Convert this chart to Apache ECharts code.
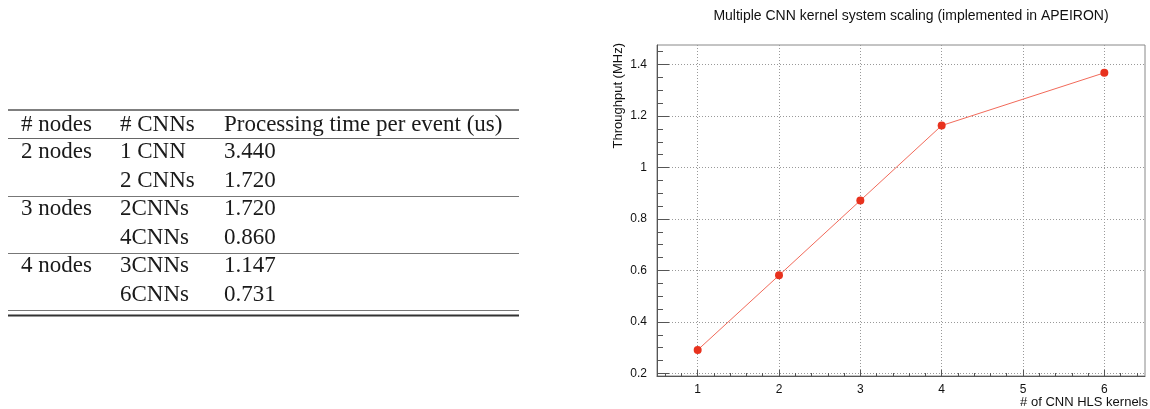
<!DOCTYPE html>
<html>
<head>
<meta charset="utf-8">
<script src="https://cdn.jsdelivr.net/npm/echarts@6/dist/echarts.min.js"></script>
<style>
  html, body { margin: 0; padding: 0; background: #fff; }
  #chart { width: 1150px; height: 409px; }
</style>
</head>
<body>
<div id="chart"></div>
<script>
// ---- Table data ----
const tableHeader = ['# nodes', '# CNNs', 'Processing time per event (us)'];
const nodesCol = ['2 nodes', '', '3 nodes', '', '4 nodes', ''];
const cnnsCol = ['1 CNN', '2 CNNs', '2CNNs', '4CNNs', '3CNNs', '6CNNs'];
const timeCol = ['3.440', '1.720', '1.720', '0.860', '1.147', '0.731'];

// ---- Chart data ----
const chartTitle = 'Multiple CNN kernel system scaling (implemented in APEIRON)';
const xTitle = '# of CNN HLS kernels';
const yTitle = 'Throughput (MHz)';
const kernels = [1, 2, 3, 4, 6];
const throughput = [0.291, 0.581, 0.872, 1.163, 1.368];
const xMajorTicks = [1, 2, 3, 4, 5, 6];
const xMinorTicks = [0.6, 0.8, 1.2, 1.4, 1.6, 1.8, 2.2, 2.4, 2.6, 2.8, 3.2, 3.4, 3.6, 3.8,
                     4.2, 4.4, 4.6, 4.8, 5.2, 5.4, 5.6, 5.8, 6.2, 6.4];
const yMajorTicks = [0.2, 0.4, 0.6, 0.8, 1.0, 1.2, 1.4];
const yMinorTicks = [0.25, 0.3, 0.35, 0.45, 0.5, 0.55, 0.65, 0.7, 0.75, 0.85, 0.9, 0.95,
                     1.05, 1.1, 1.15, 1.25, 1.3, 1.35, 1.45];

// ---- Table layout (graphic elements) ----
const serif = '"Liberation Serif", "Times New Roman", serif';
const sans = '"Liberation Sans", Arial, Helvetica, sans-serif';
const tblLeft = 8, tblRight = 519;
const colX = [21, 120, 224];
const headerY = 124.5;
const rowY = [152, 180.5, 209, 237.5, 266, 294.5];
const graphics = [];
function rule(y, w, color) {
  graphics.push({ type: 'line', silent: true,
    shape: { x1: tblLeft, y1: y, x2: tblRight, y2: y },
    style: { stroke: color, lineWidth: w } });
}
function cell(x, y, t) {
  graphics.push({ type: 'text', silent: true, x: x, y: y,
    style: { text: t, font: '23px ' + serif, fill: '#1a1a1a', textVerticalAlign: 'middle', textAlign: 'left' } });
}
rule(110, 1.3, '#555');
tableHeader.forEach((t, i) => cell(colX[i], headerY, t));
rule(138.5, 1, '#666');
for (let r = 0; r < rowY.length; r++) {
  cell(colX[0], rowY[r], nodesCol[r]);
  cell(colX[1], rowY[r], cnnsCol[r]);
  cell(colX[2], rowY[r], timeCol[r]);
}
rule(196.5, 1, '#777');
rule(253.5, 1, '#777');
rule(310.5, 1, '#777');
rule(315.5, 2, '#333');

// x-axis title (ROOT style: right-aligned under the axis end)
graphics.push({ type: 'text', silent: true, x: 1148, y: 402,
  style: { text: xTitle, font: '13px ' + sans, fill: '#111', textAlign: 'right', textVerticalAlign: 'middle' } });

const chart = echarts.init(document.getElementById('chart'), null, { renderer: 'canvas' });
const axisCol = '#555';
const gridLine = { show: true, lineStyle: { color: '#999', type: [1, 2], width: 1 } };

chart.setOption({
  animation: false,
  backgroundColor: '#fff',
  title: {
    text: chartTitle, left: 906, top: 4, textAlign: 'center',
    textStyle: { fontFamily: sans, fontSize: 14, fontWeight: 'normal', color: '#111' }
  },
  grid: { left: 657, top: 45, width: 488, height: 331, show: true,
          outerBoundsMode: 'none', containLabel: false,
          borderColor: '#888', borderWidth: 1, backgroundColor: 'transparent' },
  xAxis: [
    { type: 'value', min: 0.5, max: 6.5, position: 'bottom',
      axisLine: { show: true, lineStyle: { color: axisCol, width: 1 } },
      axisTick: { show: true, inside: true, length: 6, customValues: xMajorTicks, lineStyle: { color: axisCol } },
      axisLabel: { show: true, customValues: xMajorTicks, fontFamily: sans, fontSize: 12, color: '#111', margin: 8 },
      splitLine: gridLine },
    { type: 'value', min: 0.5, max: 6.5, position: 'bottom',
      axisLine: { show: false },
      axisTick: { show: true, inside: true, length: 3, customValues: xMinorTicks, lineStyle: { color: axisCol } },
      axisLabel: { show: false }, splitLine: { show: false } }
  ],
  yAxis: [
    { type: 'value', min: 0.19, max: 1.476, position: 'left',
      name: yTitle, nameLocation: 'end', nameRotate: 90, nameGap: 2,
      nameTextStyle: { fontFamily: sans, fontSize: 13, color: '#111', align: 'right', verticalAlign: 'bottom', padding: [0, 0, 32, 0] },
      axisLine: { show: true, lineStyle: { color: axisCol, width: 1 } },
      axisTick: { show: true, inside: true, length: 12, customValues: yMajorTicks, lineStyle: { color: axisCol } },
      axisLabel: { show: true, customValues: yMajorTicks, fontFamily: sans, fontSize: 12, color: '#111', margin: 10 },
      splitLine: gridLine },
    { type: 'value', min: 0.19, max: 1.476, position: 'left',
      axisLine: { show: false },
      axisTick: { show: true, inside: true, length: 6, customValues: yMinorTicks, lineStyle: { color: axisCol } },
      axisLabel: { show: false }, splitLine: { show: false } }
  ],
  series: [{
    type: 'line', xAxisIndex: 0, yAxisIndex: 0,
    data: kernels.map((k, i) => [k, throughput[i]]),
    symbol: 'circle', symbolSize: 8,
    itemStyle: { color: '#e8321e' },
    lineStyle: { color: '#f26a5a', width: 1 }
  }],
  graphic: graphics
});
</script>
</body>
</html>
